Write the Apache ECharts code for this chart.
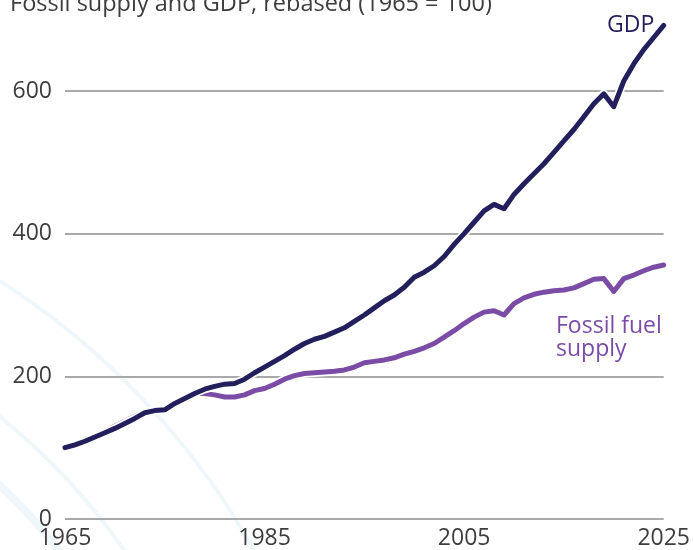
<!DOCTYPE html>
<html><head><meta charset="utf-8">
<script src="https://cdn.jsdelivr.net/npm/echarts@6/dist/echarts.min.js"></script>
<style>html,body{margin:0;padding:0;background:#fff}#c{width:693px;height:550px}</style>
</head><body><div id="c"></div>
<script>
const years = ['1965','1966','1967','1968','1969','1970','1971','1972','1973','1974',
  '1975','1976','1977','1978','1979','1980','1981','1982','1983','1984',
  '1985','1986','1987','1988','1989','1990','1991','1992','1993','1994',
  '1995','1996','1997','1998','1999','2000','2001','2002','2003','2004',
  '2005','2006','2007','2008','2009','2010','2011','2012','2013','2014',
  '2015','2016','2017','2018','2019','2020','2021','2022','2023','2024','2025'];
const gdp = [100,104,109,115,121,127,134,141,149,152,
  153,162,169,176,182,186,189,190,196,205,
  213,221,229,238,246,252,256,262,268,277,
  286,296,306,314,325,339,346,355,368,385,
  400,416,432,441,435,455,470,484,498,514,
  530,546,564,582,596,578,614,638,658,675,692];
const fossil = [100,104,110,116,123,130,137,144,150,152,
  153,162,169,176,176,174,171,171,174,180,
  183,189,196,201,204,205,206,207,209,213,
  219,221,223,226,231,235,240,246,255,264,
  274,283,290,292,286,302,310,315,318,320,
  321,324,330,336,337,319,337,342,348,353,356];
const yTicks = [0, 200, 400, 600];
const titleText = 'Fossil supply and GDP, rebased (1965 = 100)';

const FONT = '"Open Sans", "Noto Sans", sans-serif';
const GDP_C = '#231f5c', FOS_C = '#7a4ca5', ARC_C = '#f0f7fb';

const chart = echarts.init(document.getElementById('c'), null, {renderer: 'canvas'});
function lineSeries(data, color, width, z) {
  return {type: 'line', data: data, symbol: 'none', clip: false, silent: true, z: z,
    lineStyle: {color: color, width: width, join: 'round', cap: 'round'}};
}
chart.setOption({
  animation: false,
  backgroundColor: '#fff',
  title: {text: titleText, left: 5, top: -13,
    textStyle: {fontFamily: FONT, fontSize: 23.5, fontWeight: 'normal', color: '#3d3d3d'}},
  grid: {left: 65, right: 29, top: 91, bottom: 31, containLabel: false},
  xAxis: {type: 'category', data: years, boundaryGap: false,
    axisLine: {show: false}, axisTick: {show: false}, splitLine: {show: false},
    axisLabel: {interval: 19, margin: 8, fontFamily: FONT, fontSize: 23, color: '#3d3d3d'}},
  yAxis: {type: 'value', min: yTicks[0], max: yTicks[yTicks.length - 1], interval: 200,
    axisLine: {show: false}, axisTick: {show: false},
    axisLabel: {margin: 13, fontFamily: FONT, fontSize: 23, color: '#3d3d3d'},
    splitLine: {lineStyle: {color: '#a9a9a9', width: 2}}},
  graphic: [
    {type: 'circle', silent: true, z: -10, shape: {cx: -409, cy: 922, r: 760}, style: {fill: 'none', stroke: ARC_C, lineWidth: 4}},
    {type: 'circle', silent: true, z: -10, shape: {cx: -409, cy: 922, r: 650}, style: {fill: 'none', stroke: ARC_C, lineWidth: 4}},
    {type: 'circle', silent: true, z: -10, shape: {cx: -409, cy: 922, r: 598}, style: {fill: 'none', stroke: ARC_C, lineWidth: 8}},
    {type: 'text', silent: true, z: 100, x: 607, y: 25, style: {text: 'GDP', font: '23px ' + FONT, fill: GDP_C, textAlign: 'left', textVerticalAlign: 'middle'}},
    {type: 'text', silent: true, z: 100, x: 556, y: 326, style: {text: 'Fossil fuel', font: '23px ' + FONT, fill: FOS_C, textAlign: 'left', textVerticalAlign: 'middle'}},
    {type: 'text', silent: true, z: 100, x: 556, y: 349, style: {text: 'supply', font: '23px ' + FONT, fill: FOS_C, textAlign: 'left', textVerticalAlign: 'middle'}}
  ],
  series: [
    lineSeries(fossil, '#ffffff', 8.5, 2),
    lineSeries(fossil, FOS_C, 5, 3),
    lineSeries(gdp, '#ffffff', 8.5, 4),
    lineSeries(gdp, GDP_C, 5, 5)
  ]
});
</script></body></html>
